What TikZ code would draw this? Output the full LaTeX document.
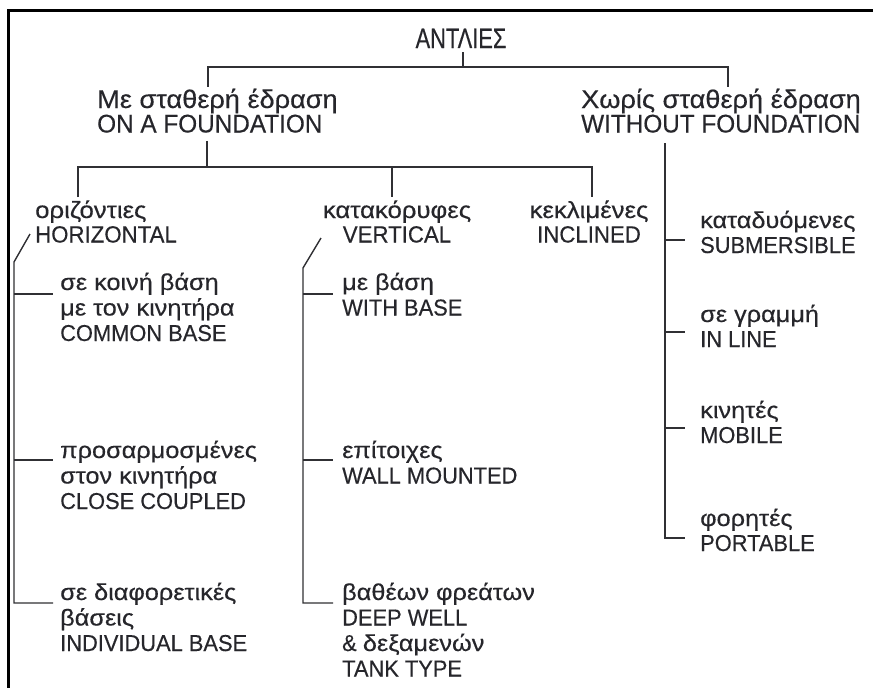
\documentclass[tikz,border=0pt]{standalone}
\usepackage{fontspec}
\setmainfont[FakeStretch=0.95,FakeBold=0.35]{Liberation Sans}
\newfontfamily\condfont[FakeStretch=0.78,FakeBold=0.35]{Liberation Sans}
\newfontfamily\gr[FakeStretch=1.1,FakeBold=0.35]{Liberation Sans}
\newfontfamily\grh[FakeStretch=1.06,FakeBold=0.35]{Liberation Sans}
\usetikzlibrary{calc}
\definecolor{ink}{HTML}{26262B}
\definecolor{lineink}{HTML}{303034}
\newcommand\stkL[2]{\vtop{\baselineskip=#1\lineskiplimit=-100pt\lineskip=0pt\halign{##\hfil\cr#2\crcr}}}
\newcommand\stkC[2]{\vtop{\baselineskip=#1\lineskiplimit=-100pt\lineskip=0pt\halign{\hfil##\hfil\cr#2\crcr}}}
\begin{document}
\begin{tikzpicture}[x=1pt,y=-1pt,
  tree/.style={draw=lineink, line width=1.4pt},
  frame/.style={draw=black, line width=3pt},
  lbl/.style={inner sep=0pt, text=ink, anchor=base west},
  head/.style={lbl, font=\fontsize{25.6}{26}\selectfont},
  mid/.style={inner sep=0pt, text=ink, font=\fontsize{23.4}{24}\selectfont},
  leaf/.style={lbl, font=\fontsize{23}{25}\selectfont}]
\useasboundingbox (0,0) rectangle (873,688);
\fill[white] (0,0) rectangle (873,688);
\draw[frame] (8,688) -- (8,10) -- (873,10);

% title and first level
\node[inner sep=0pt, text=ink, anchor=base, font=\condfont\fontsize{28}{28}\selectfont] (title) at (461,48) {ΑΝΤΛΙΕΣ};
\node[head] (onf) at (97,108) {\stkL{24.5pt}{\grh Με σταθερή έδραση\cr ON A FOUNDATION}};
\node[head] (wof) at (581,108) {\stkL{24.5pt}{\grh Χωρίς σταθερή έδραση\cr WITHOUT FOUNDATION}};

\coordinate (b1L) at (208,67);
\coordinate (b1R) at (728,67);
\coordinate (b1M) at (463,67);
\draw[tree] ($(b1M|-title.south)+(0,4)$) -- (b1M);
\draw[tree] ($(b1L|-onf.north)+(0,-2)$) -- (b1L) -- (b1R) -- ($(b1R|-wof.north)+(0,-2)$);

% second level
\node[mid, anchor=base west] (hor) at (35,218) {\stkL{24.5pt}{\gr οριζόντιες\cr HORIZONTAL}};
\node[mid, anchor=base] (ver) at (397,218) {\stkC{24.5pt}{\gr κατακόρυφες\cr VERTICAL}};
\node[mid, anchor=base] (inc) at (589,218) {\stkC{24.5pt}{\gr κεκλιμένες\cr INCLINED}};

\coordinate (b2L) at (78,167);
\coordinate (b2M) at (207,167);
\coordinate (b2V) at (392,167);
\coordinate (b2R) at (592,167);
\draw[tree] ($(b2M|-onf.south)+(0,8)$) -- (b2M);
\draw[tree] ($(b2L|-hor.north)+(0,-3)$) -- (b2L) -- (b2R) -- ($(b2R|-inc.north)+(0,-3)$);
\draw[tree] (b2V) -- ($(b2V|-ver.north)+(0,-3)$);

% horizontal branch
\node[leaf] (h1) at (60,290) {\stkL{25.5pt}{\gr σε κοινή βάση\cr \gr με τον κινητήρα\cr COMMON BASE}};
\node[leaf] (h2) at (60,458) {\stkL{25.5pt}{\gr προσαρμοσμένες\cr \gr στον κινητήρα\cr CLOSE COUPLED}};
\node[leaf] (h3) at (60,600) {\stkL{25.5pt}{\gr σε διαφορετικές\cr \gr βάσεις\cr INDIVIDUAL BASE}};
\coordinate (hs) at (30,234);
\coordinate (hk) at (14,262);
\draw[tree] (hs) -- (hk) -- ($(hk|-h3.base)+(0,3)$) -- ($(h3.base west)+(-7,3)$);
\draw[tree] ($(hk|-h1.base)+(0,4)$) -- ($(h1.base west)+(-7,4)$);
\draw[tree] ($(hk|-h2.base)+(0,2)$) -- ($(h2.base west)+(-7,2)$);

% vertical branch
\node[leaf] (v1) at (342,290) {\stkL{25.5pt}{\gr με βάση\cr WITH BASE}};
\node[leaf] (v2) at (342,458) {\stkL{25.5pt}{\gr επίτοιχες\cr WALL MOUNTED}};
\node[leaf] (v3) at (342,600) {\stkL{25.5pt}{\gr βαθέων φρεάτων\cr DEEP WELL\cr \& {\gr δεξαμενών}\cr TANK TYPE}};
\coordinate (vs) at (321,238);
\coordinate (vk) at (303,268);
\draw[tree] (vs) -- (vk) -- ($(vk|-v3.base)+(0,3)$) -- ($(v3.base west)+(-9,3)$);
\draw[tree] ($(vk|-v1.base)+(0,4)$) -- ($(v1.base west)+(-9,4)$);
\draw[tree] ($(vk|-v2.base)+(0,2)$) -- ($(v2.base west)+(-9,2)$);

% without foundation branch
\node[leaf] (r1) at (700,228) {\stkL{25pt}{\gr καταδυόμενες\cr SUBMERSIBLE}};
\node[leaf] (r2) at (700,322) {\stkL{25pt}{\gr σε γραμμή\cr IN LINE}};
\node[leaf] (r3) at (700,418) {\stkL{25pt}{\gr κινητές\cr MOBILE}};
\node[leaf] (r4) at (700,526) {\stkL{25pt}{\gr φορητές\cr PORTABLE}};
\coordinate (rk) at (665,143);
\draw[tree] (rk) -- ($(rk|-r4.base)+(0,12)$) -- ($(r4.base west)+(-15,12)$);
\draw[tree] ($(rk|-r1.base)+(0,12)$) -- ($(r1.base west)+(-15,12)$);
\draw[tree] ($(rk|-r2.base)+(0,10)$) -- ($(r2.base west)+(-15,10)$);
\draw[tree] ($(rk|-r3.base)+(0,10)$) -- ($(r3.base west)+(-15,10)$);
\end{tikzpicture}
\end{document}
